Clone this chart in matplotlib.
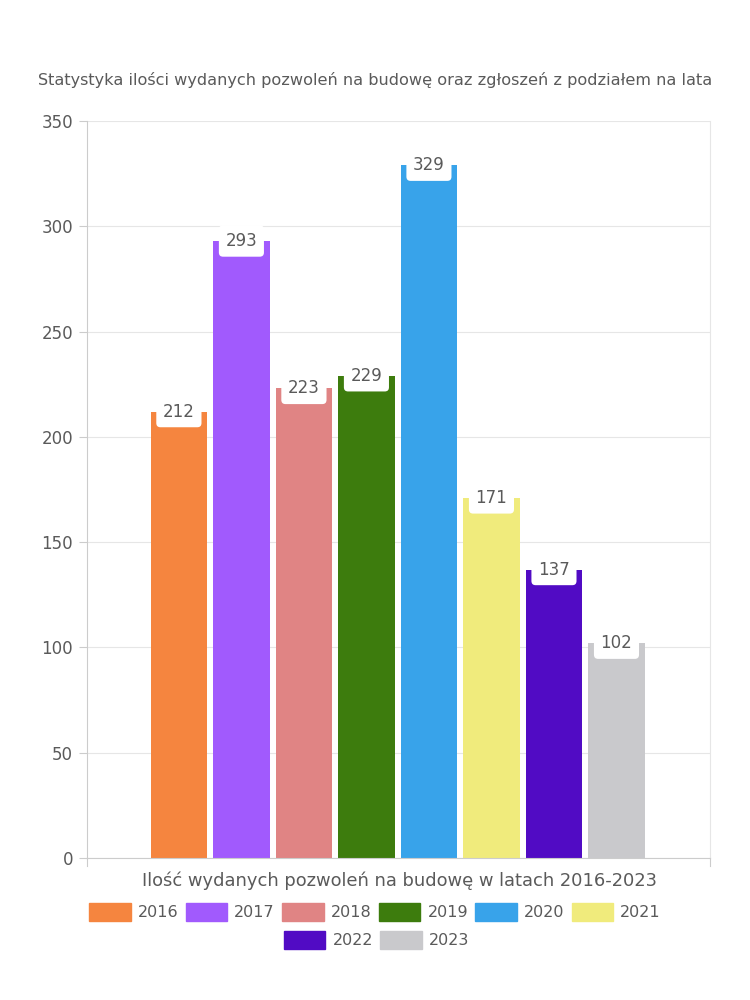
import matplotlib
matplotlib.use("Agg")
import matplotlib.pyplot as plt
from matplotlib.patches import Patch

plt.rcParams['font.family'] = ['DejaVu Sans']

years = ['2016', '2017', '2018', '2019', '2020', '2021', '2022', '2023']
values = [212, 293, 223, 229, 329, 171, 137, 102]
colors = ['#F5853F', '#A15AFD', '#E08484', '#3D7C0D', '#38A3EA', '#F0EB7C', '#510BC4', '#C9C9CC']

title = 'Statystyka ilości wydanych pozwoleń na budowę oraz zgłoszeń z podziałem na lata'
xlabel = 'Ilość wydanych pozwoleń na budowę w latach 2016-2023'
yticks = [0, 50, 100, 150, 200, 250, 300, 350]

textc = '#5a5a5a'
gridc = '#e6e6e6'

fig = plt.figure(figsize=(7.5, 10), dpi=100)
ax = fig.add_axes([0.116, 0.142, 0.831, 0.737])

xs = list(range(len(values)))
ax.bar(xs, values, width=0.9, color=colors, zorder=2)

for x, v in zip(xs, values):
    ax.annotate(str(v), (x, v), ha='center', va='center', fontsize=12, color=textc, zorder=4,
                bbox=dict(boxstyle='round,pad=0.4,rounding_size=0.25', fc='white', ec='none'))

ax.set_xlim(-1.47, 8.5)
ax.set_ylim(0, 350)
ax.set_yticks(yticks)
ax.set_xticks([])
ax.tick_params(axis='y', length=6, color='#cccccc', labelsize=12, labelcolor=textc, pad=4)
ax.grid(axis='y', color=gridc, linewidth=0.8, zorder=0)
ax.spines['top'].set_visible(False)
ax.spines['right'].set_color(gridc)
ax.spines['left'].set_color('#cccccc')
ax.spines['bottom'].set_color('#cccccc')

# small ticks at the category edges below the baseline
for xe in [-1.47, 8.5]:
    ax.plot([xe, xe], [0, -4], color='#cccccc', lw=0.8, clip_on=False)

fig.text(0.5, 0.92, title, ha='center', va='center', fontsize=11.6, color=textc)
fig.text(0.533, 0.119, xlabel, ha='center', va='center', fontsize=12.9, color=textc)

handles = [Patch(color=c, label=y) for c, y in zip(colors, years)]
legkw = dict(loc='center', frameon=False, fontsize=11.5, labelcolor=textc, handlelength=2.6,
             handleheight=1.3, columnspacing=0.45, handletextpad=0.45, borderpad=0)
# two rows: six years, then the last two centred
fig.legend(handles=handles[:6], bbox_to_anchor=(0.5, 0.088), ncol=6, **legkw)
fig.legend(handles=handles[6:], bbox_to_anchor=(0.502, 0.06), ncol=2, **legkw)

fig.savefig('out.png', dpi=100)
